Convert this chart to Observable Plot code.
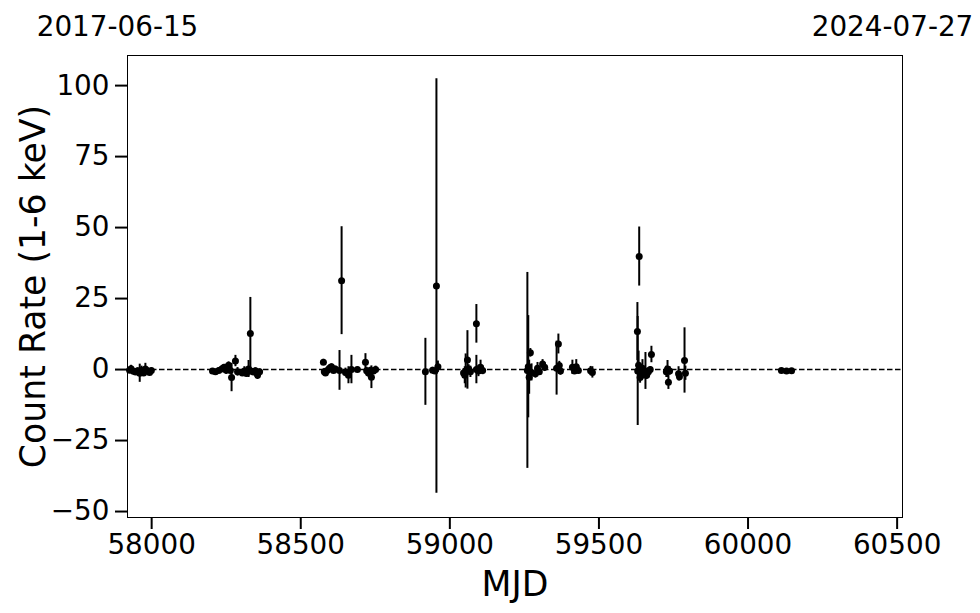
<!DOCTYPE html>
<html>
<head>
<meta charset="utf-8">
<script src="https://cdn.jsdelivr.net/npm/d3@7"></script>
<script src="https://cdn.jsdelivr.net/npm/@observablehq/plot@0.6"></script>
<style>
  html, body { margin: 0; padding: 0; background: #fff; }
  #chart svg { display: block; }
</style>
</head>
<body>
<div id="chart"></div>
<script>
// Observation times (MJD)
const mjd = [
  57926, 57931, 57939, 57946, 57953, 57960, 57966, 57973, 57979, 57986, 57993, 57999,
  58204, 58214, 58225, 58235, 58243, 58250, 58258, 58264, 58268, 58281, 58288, 58304,
  58311, 58318, 58325, 58331, 58335, 58341, 58348, 58355, 58362,
  58576, 58579, 58583, 58590, 58596, 58603, 58610, 58616, 58630, 58637, 58650, 58660,
  58670, 58690, 58717, 58721, 58727, 58734, 58737, 58744, 58751,
  58918, 58942, 58950, 58955, 58960,
  59046, 59050, 59053, 59059, 59063, 59069, 59089, 59089, 59096, 59103, 59110,
  59260, 59263, 59266, 59270, 59274, 59287, 59294, 59300, 59311, 59318,
  59358, 59364, 59367, 59371, 59411, 59418, 59424, 59431, 59472, 59478,
  59629, 59630, 59635, 59633, 59638, 59642, 59646, 59650, 59656, 59660, 59666, 59672, 59676,
  59726, 59730, 59733, 59737, 59767, 59770, 59787, 59790,
  60112, 60129, 60146
];
// Count rate (1-6 keV)
const rate = [
  -0.2, 0.3, -0.6, -0.9, -0.4, -1.3, -0.3, -1.2, 0.2, -0.5, -1.0, -0.3,
  -0.5, -0.8, -0.3, 0.2, 0.8, -0.2, 1.5, -0.3, -2.8, 3.0, -0.8, -1.2,
  -0.5, -1.4, 0.2, 12.7, -0.6, -0.9, -0.4, -2.0, -0.8,
  2.6, -0.8, -1.2, -0.2, 0.5, 1.0, -0.3, 0.2, -0.3, 31.3, -1.0, -2.0,
  0.0, 0.0, 2.6, -0.4, -1.2, -0.2, -2.7, -0.5, 0.0,
  -0.8, -0.2, -0.5, 29.4, 1.0,
  -1.2, -2.0, -0.5, 3.4, 0.2, -0.8, 16.1, 0.0, -0.5, 0.8, -0.3,
  -0.3, 1.0, -2.7, 5.9, -1.0, -1.5, 0.5, -0.8, 2.0, 0.8,
  0.5, 9.0, 1.4, -0.5, 0.8, -0.5, 1.0, -0.3, -0.4, -1.0,
  13.4, -0.5, 39.8, 1.5, -2.8, -0.5, 0.5, -1.8, -0.5, -2.0, -0.8, 0.0, 5.3,
  -0.8, 0.2, -4.5, -0.5, -1.5, -2.5, 3.2, -1.3,
  -0.3, -0.5, -0.4
];
// 1-sigma errors
const err = [
  1.0, 1.2, 1.0, 0.8, 1.0, 3.2, 1.5, 1.0, 2.0, 1.2, 1.0, 0.8,
  0.8, 0.7, 1.0, 1.2, 1.0, 1.5, 1.2, 1.0, 5.0, 2.0, 1.5, 1.0,
  1.5, 1.2, 3.0, 12.7, 1.0, 1.2, 1.0, 1.5, 1.0,
  1.0, 1.2, 1.0, 0.8, 1.2, 1.0, 0.8, 1.0, 7.0, 19.0, 1.5, 3.0,
  5.0, 0.8, 3.0, 1.2, 1.5, 1.0, 4.0, 1.0, 1.2,
  11.8, 1.0, 1.0, 73.0, 2.0,
  1.5, 3.0, 6.0, 10.3, 1.5, 2.0, 6.8, 5.0, 2.0, 2.5, 1.5,
  34.5, 18.0, 6.0, 1.5, 3.0, 1.5, 2.0, 1.2, 1.5, 1.5,
  9.5, 3.5, 1.5, 1.5, 2.5, 1.2, 2.5, 1.2, 1.5, 2.0,
  10.2, 19.2, 10.4, 5.0, 2.0, 1.5, 3.0, 1.5, 6.5, 1.5, 1.5, 1.0, 2.9,
  2.0, 3.0, 2.5, 1.5, 2.5, 1.5, 11.5, 2.5,
  0.5, 0.5, 0.5
];
const xTicks = [58000, 58500, 59000, 59500, 60000, 60500];
const yTicks = [-50, -25, 0, 25, 50, 75, 100];
const xLimits = [57919, 60518];
const yLimits = [-52.1, 110.6];

const data = mjd.map((m, i) => ({mjd: m, rate: rate[i], err: err[i]}));
const mjdToDate = m => new Date((m - 40587) * 86400000).toISOString().slice(0, 10);

const font = "DejaVu Sans, sans-serif";
const chart = Plot.plot({
  width: 980,
  height: 613,
  marginLeft: 127,
  marginRight: 78,
  marginTop: 55,
  marginBottom: 96,
  style: {fontFamily: font, background: "#fff", color: "black"},
  x: {domain: xLimits},
  y: {domain: yLimits},
  marks: [
    Plot.ruleY([0], {stroke: "black", strokeWidth: 1.5, strokeDasharray: "5.5,2.5"}),
    Plot.ruleX(data, {x: "mjd", y1: d => d.rate - d.err, y2: d => d.rate + d.err, stroke: "black", strokeWidth: 2}),
    Plot.dot(data, {x: "mjd", y: "rate", r: 3.5, fill: "black", stroke: "none"}),
    Plot.frame({stroke: "black", strokeWidth: 1}),
    Plot.axisY({ticks: yTicks, tickSize: 12, tickPadding: 6, strokeWidth: 2, fontSize: 27.8, label: null, tickFormat: d => d < 0 ? "\u2212" + Math.abs(d) : String(d)}),
    Plot.axisX({ticks: xTicks, tickSize: 12, tickPadding: 5, strokeWidth: 2, fontSize: 27.8, label: null, tickFormat: d => String(d)}),
    Plot.axisX({anchor: "top", ticks: xLimits, tickSize: 0, tickPadding: 20, fontSize: 27.8, label: null, dx: -10, tickFormat: mjdToDate}),
    Plot.text(["Count Rate (1-6 keV)"], {frameAnchor: "left", dx: -94, rotate: -90, textAnchor: "middle", lineAnchor: "middle", fontSize: 34.7, fill: "black"}),
    Plot.text(["MJD"], {frameAnchor: "bottom", dy: 78, textAnchor: "middle", fontSize: 34.7, fill: "black"})
  ]
});
document.getElementById("chart").appendChild(chart);
</script>
</body>
</html>
